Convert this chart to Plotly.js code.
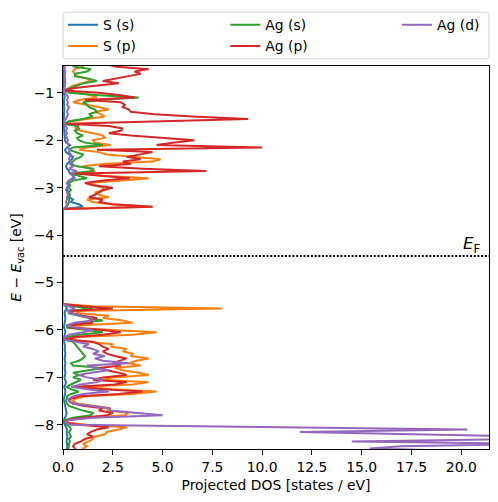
<!DOCTYPE html>
<html>
<head>
<meta charset="utf-8">
<script src="https://cdn.plot.ly/plotly-3.0.1.min.js"></script>
<style>html,body{margin:0;padding:0;background:#fff;}#chart{width:498px;height:502px;}</style>
</head>
<body>
<div id="chart"></div>
<script>
// ---- data ----
const seriesNames = ["S (s)", "S (p)", "Ag (s)", "Ag (p)", "Ag (d)"];
const seriesColors = ["#1f77b4", "#ff7f0e", "#2ca02c", "#d62728", "#9467bd"];
const fermiEnergy = -4.44;
const xTickVals = [0, 2.5, 5, 7.5, 10, 12.5, 15, 17.5, 20];
const yTickVals = [-8, -7, -6, -5, -4, -3, -2, -1];

// energy sampling (eV) of the upper band and lower band
const energyUpper = [-0.40,-0.45,-0.50,-0.55,-0.60,-0.65,-0.70,-0.75,-0.80,-0.85,-0.90,-0.95,-1.00,-1.05,-1.10,-1.15,-1.20,-1.25,-1.30,-1.35,-1.40,-1.45,-1.50,-1.55,-1.60,-1.65,-1.70,-1.75,-1.80,-1.85,-1.90,-1.95,-2.00,-2.05,-2.10,-2.15,-2.20,-2.25,-2.30,-2.35,-2.40,-2.45,-2.50,-2.55,-2.60,-2.65,-2.70,-2.75,-2.80,-2.85,-2.90,-2.95,-3.00,-3.05,-3.10,-3.15,-3.20,-3.25,-3.30,-3.35,-3.40,-3.45,-3.50];
const energyLower = [-5.45,-5.50,-5.55,-5.60,-5.65,-5.70,-5.75,-5.80,-5.85,-5.90,-5.95,-6.00,-6.05,-6.10,-6.15,-6.20,-6.25,-6.30,-6.35,-6.40,-6.45,-6.50,-6.55,-6.60,-6.65,-6.70,-6.75,-6.80,-6.85,-6.90,-6.95,-7.00,-7.05,-7.10,-7.15,-7.20,-7.25,-7.30,-7.35,-7.40,-7.45,-7.50,-7.55,-7.60,-7.65,-7.70,-7.75,-7.80,-7.85,-7.90,-7.95,-8.00,-8.05,-8.10,-8.15,-8.20,-8.25,-8.30,-8.35,-8.40,-8.45,-8.50,-8.55];

const sS_upper = [0.05,0.05,0.04,0.06,0.05,0.04,0.05,0.06,0.05,0.04,0.03,0.02,0.04,0.06,0.08,0.05,0.04,0.05,0.06,0.07,0.06,0.05,0.06,0.04,0.03,0.02,0.04,0.05,0.06,0.05,0.07,0.08,0.1,0.15,0.35,0.2,0.1,0.15,0.3,0.5,0.45,0.3,0.2,0.15,0.2,0.3,0.35,0.55,0.5,0.3,0.2,0.3,0.2,0.15,0.3,0.25,0.3,0.5,0.4,0.8,1.0,0,0];
const sP_upper = [1.0,1.0,0.6,0.5,0.6,0.7,1.2,1.4,0.9,0.5,0.3,0.1,0.8,1.4,1.7,0.8,0.5,1.2,1.8,2.3,1.6,1.9,2.1,1.2,0.4,0.2,0.8,0.6,0.9,1.5,2.0,2.1,1.5,1.6,2.4,1.2,0.8,1.8,2.2,3.5,4.9,4.5,2.0,1.0,1.4,1.6,1.0,2.0,4.3,3.0,1.2,1.6,2.0,2.1,1.6,1.8,2.3,1.2,1.5,2.4,4.5,0,0];
const agS_upper = [0.4,0.6,1.4,1.2,0.6,0.6,1.3,1.7,1.0,0.7,0.4,0.05,0.3,1.8,3.8,1.8,1.0,1.2,1.3,1.6,1.7,1.3,1.5,1.0,0.3,0.05,0.7,0.8,0.6,0.7,1.0,0.7,0.8,1.1,2.0,0.5,0.3,0.6,1.0,0.9,0.6,0.5,0.4,0.7,1.5,1.5,0.4,0.8,1.2,0.5,0.3,0.35,0.3,0.4,0.3,0.35,0.3,0.3,0.3,0.25,0.2,0,0];
const agP_upper = [2.2,2.7,4.3,3.6,3.9,3.2,2.6,2.0,2.8,1.6,0.6,0.05,1.8,2.9,3.6,1.1,2.9,3.1,3.0,3.3,3.4,4.6,6.5,9.3,4.5,0.2,2.3,3.0,2.9,2.3,3.4,5.0,6.6,5.5,4.7,10.0,1.7,4.5,3.8,3.2,3.9,3.0,3.4,1.8,4.0,7.2,0.6,2.0,3.35,2.0,1.1,1.5,2.5,2.0,1.8,1.6,1.3,2.0,1.8,2.5,4.5,0,0];
const agD_upper = [0.1,0.1,0.08,0.12,0.1,0.08,0.12,0.1,0.12,0.1,0.08,0.05,0.1,0.2,0.25,0.2,0.25,0.2,0.3,0.25,0.2,0.25,0.2,0.15,0.05,0.05,0.15,0.2,0.15,0.2,0.15,0.2,0.25,0.2,0.3,0.25,0.35,0.3,0.4,0.35,0.3,0.4,0.35,0.5,0.3,0.7,0.35,0.5,0.6,0.3,0.2,0.25,0.2,0.25,0.2,0.25,0.2,0.2,0.15,0.2,0.15,0,0];

const sS_lower = [0,0.15,0.2,0.1,0.08,0.1,0.12,0.1,0.08,0.05,0.05,0.1,0.12,0.08,0.05,0.04,0.06,0.08,0.1,0.08,0.1,0.12,0.1,0.08,0.1,0.12,0.1,0.08,0.1,0.12,0.1,0.08,0.1,0.15,0.12,0.06,0.1,0.12,0.1,0.06,0.05,0.06,0.08,0.1,0.12,0.15,0.18,0.15,0.1,0.05,0.05,0.1,0.15,0.2,0.18,0.2,0.22,0.2,0.18,0.2,0.22,0.2,0.2];
const sP_lower = [0,1.5,8.0,0.6,0.8,2.3,2.0,3.0,3.5,1.0,0.3,2.5,4.7,3.5,0.8,0.1,1.5,2.5,2.4,3.2,3.0,3.5,3.4,4.3,3.7,3.3,3.9,2.6,3.0,3.8,4.3,2.5,2.0,4.3,3.5,1.0,2.5,4.7,3.5,1.2,0.6,0.5,0.7,1.5,2.4,2.2,3.3,3.1,1.3,0.3,0.1,1.2,3.2,2.8,2.2,2.1,1.6,1.5,1.3,1.0,1.2,1.0,1.0];
const agS_lower = [0,0.5,1.5,0.3,0.3,0.8,1.3,2.0,0.8,0.2,0.2,1.2,2.0,0.8,0.2,0.05,0.5,0.6,0.7,0.8,0.9,1.0,1.1,1.0,0.8,0.4,0.5,2.0,1.3,0.5,0.8,0.5,0.9,0.6,0.4,0.2,0.4,0.8,0.4,0.2,0.2,0.15,0.2,0.3,0.6,1.0,1.5,1.4,0.5,0.1,0.05,0.2,0.35,0.4,0.3,0.35,0.4,0.3,0.35,0.3,0.3,0.25,0.3];
const agP_lower = [0,1.0,2.5,0.4,0.5,1.0,1.7,1.3,1.5,0.4,0.3,2.0,2.9,2.0,0.6,0.1,1.5,1.8,2.0,2.3,2.0,2.2,2.6,3.2,2.8,2.5,2.9,1.8,2.2,2.8,3.2,2.0,1.5,3.2,2.6,0.6,2.0,4.0,2.8,0.8,0.4,0.3,0.5,1.0,2.0,1.8,2.5,2.2,1.0,0.2,0.1,0.8,2.3,1.7,1.4,1.2,1.5,1.1,0.9,0.6,0.5,0.6,0.6];
const agD_lower = [0,0.3,0.6,0.2,0.4,0.9,1.4,1.5,0.6,0.2,0.6,1.5,1.0,0.3,0.1,0.05,0.6,1.3,1.0,1.5,1.8,1.5,2.1,1.6,2.0,3.3,1.2,1.6,2.3,1.4,0.8,1.2,2.0,1.7,0.9,0.4,1.2,2.3,1.0,0.5,0.3,0.3,0.5,1.5,2.3,2.4,3.8,5.0,1.5,0.3,0.1,0.4,11.0,20.3,11.9,16.5,24.0,23.0,14.5,24.0,17.0,15.4,20.0];

// ---- build traces ----
const upper = [sS_upper, sP_upper, agS_upper, agP_upper, agD_upper];
const lower = [sS_lower, sP_lower, agS_lower, agP_lower, agD_lower];
const legendColumn = ["legend", "legend", "legend2", "legend2", "legend3"]; // 3-column legend
const energies = energyUpper.concat(energyLower);
const traces = seriesNames.map((name, i) => ({
  type: "scatter",
  mode: "lines",
  name: name,
  x: upper[i].concat(lower[i]),
  y: energies,
  line: {color: seriesColors[i], width: 2},
  legend: legendColumn[i],
  hoverinfo: "skip"
}));

const font = {family: "DejaVu Sans, sans-serif", size: 13.9, color: "#000"};
function legendAt(xp) {
  return {
    orientation: "v",
    x: xp, xanchor: "left",
    y: 1.148, yanchor: "top",
    bgcolor: "rgba(0,0,0,0)",
    borderwidth: 0,
    font: font,
    traceorder: "normal",
    tracegroupgap: 0
  };
}

// rounded legend frame in paper coordinates
const fx = 1 / 426, fy = 1 / 385, rr = 3;
const lx0 = 0, lx1 = 1, ly0 = 1.019, ly1 = 1.1403;
const framePath =
  `M ${lx0 + rr * fx},${ly1} L ${lx1 - rr * fx},${ly1} Q ${lx1},${ly1} ${lx1},${ly1 - rr * fy} ` +
  `L ${lx1},${ly0 + rr * fy} Q ${lx1},${ly0} ${lx1 - rr * fx},${ly0} ` +
  `L ${lx0 + rr * fx},${ly0} Q ${lx0},${ly0} ${lx0},${ly0 + rr * fy} ` +
  `L ${lx0},${ly1 - rr * fy} Q ${lx0},${ly1} ${lx0 + rr * fx},${ly1} Z`;

const layout = {
  width: 498,
  height: 502,
  margin: {l: 63, r: 9, t: 64, b: 53, pad: 0},
  paper_bgcolor: "#fff",
  plot_bgcolor: "#fff",
  font: font,
  showlegend: true,
  legend: legendAt(0),
  legend2: legendAt(0.381),
  legend3: legendAt(0.784),
  xaxis: {
    range: [0, 21.39],
    tickvals: xTickVals,
    tickformat: ".1f",
    ticks: "outside", ticklen: 5, tickwidth: 1, tickcolor: "#000",
    showline: true, linecolor: "#000", linewidth: 1, mirror: true,
    showgrid: false, zeroline: false,
    tickfont: font,
    title: {text: "Projected DOS [states / eV]", font: font, standoff: 6}
  },
  yaxis: {
    range: [-8.51, -0.434],
    tickvals: yTickVals,
    ticks: "outside", ticklen: 5, tickwidth: 1, tickcolor: "#000",
    showline: true, linecolor: "#000", linewidth: 1, mirror: true,
    showgrid: false, zeroline: false,
    tickfont: font,
    title: {text: "<i>E</i> − <i>E</i><sub>vac</sub> [eV]", font: font, standoff: 8}
  },
  shapes: [
    {type: "line", xref: "paper", x0: 0, x1: 1, yref: "y", y0: fermiEnergy, y1: fermiEnergy,
     line: {color: "#000", width: 2, dash: "2px,1.7px"}},
    {type: "path", xref: "paper", yref: "paper", path: framePath,
     line: {color: "#d5d5d5", width: 1}, fillcolor: "rgba(0,0,0,0)"}
  ],
  annotations: [
    {xref: "paper", x: 0.985, xanchor: "right", yref: "y", y: fermiEnergy, yanchor: "bottom",
     text: "<i>E</i><sub>F</sub>", showarrow: false,
     font: {family: "DejaVu Sans, sans-serif", size: 16.7, color: "#000"}, yshift: -2}
  ]
};

Plotly.newPlot("chart", traces, layout, {staticPlot: true, displayModeBar: false});
</script>
</body>
</html>
